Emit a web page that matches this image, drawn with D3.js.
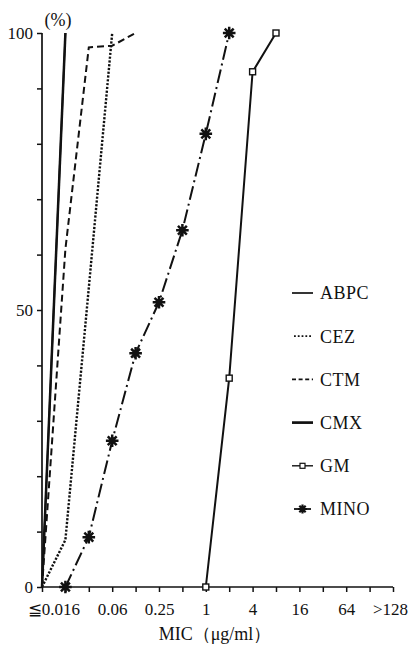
<!DOCTYPE html>
<html>
<head>
<meta charset="utf-8">
<script src="https://cdn.jsdelivr.net/npm/d3@7"></script>
<style>
  html, body { margin: 0; padding: 0; background: #fff; }
  svg { display: block; }
  text { font-family: "Liberation Serif", "DejaVu Serif", serif; fill: #111; }
</style>
</head>
<body>
<svg id="chart" width="410" height="651"></svg>
<script>
// MIC dilution steps (index along x axis)
const concentrations = ["0.008","0.016","0.03","0.06","0.125","0.25","0.5","1","2","4","8","16","32","64","128",">128"];
const tickLabels = {1: "≦0.016", 3: "0.06", 5: "0.25", 7: "1", 9: "4", 11: "16", 13: "64", 15: ">128"};
const yTickLabels = [0, 50, 100];

// cumulative % of strains inhibited, [step index, percent]
const ABPC = [[0, 0], [1, 100]];
const CEZ  = [[0, 0], [1, 8.5], [2, 54], [3, 100]];
const CTM  = [[0, 0], [1, 61], [2, 97.4], [3, 97.7], [4, 100]];
const CMX  = [[0, 0], [1, 100]];
const GM   = [[7, 0], [8, 37.7], [9, 93], [10, 100]];
const MINO = [[1, 0], [2, 9], [3, 26.4], [4, 42.2], [5, 51.4], [6, 64.4], [7, 81.8], [8, 100]];

const seriesNames = ["ABPC", "CEZ", "CTM", "CMX", "GM", "MINO"];
const seriesData = {ABPC, CEZ, CTM, CMX, GM, MINO};

const styles = {
  ABPC: {w: 1.7, dash: null, cap: "butt"},
  CEZ:  {w: 2.4, dash: "2.2,1.6", cap: "butt"},
  CTM:  {w: 2.0, dash: "7,4", cap: "butt"},
  CMX:  {w: 2.5, dash: null, cap: "butt"},
  GM:   {w: 2.0, dash: null, cap: "butt"},
  MINO: {w: 2.0, dash: "14,4,2,4", cap: "butt"}
};

const svg = d3.select("#chart");
const x = d3.scaleLinear().domain([0, concentrations.length - 1]).range([42, 393]);
const y = d3.scaleLinear().domain([0, 100]).range([587, 33]);

const FONT = "'Liberation Serif', 'DejaVu Serif', serif";

// Y axis
const yAxis = d3.axisLeft(y)
  .tickValues(d3.range(0, 101, 10))
  .tickSize(5)
  .tickPadding(4)
  .tickFormat(d => yTickLabels.includes(d) ? d : "");
const gy = svg.append("g").attr("transform", "translate(42,0)").call(yAxis);
gy.attr("font-family", FONT);
gy.select(".domain").attr("stroke", "#111").attr("stroke-width", 1.7).attr("d", `M0,${y(0)}V${y(100)}`);
gy.selectAll(".tick line").attr("stroke", "#111").attr("stroke-width", 1.5);
gy.selectAll(".tick text").attr("font-size", 17).attr("fill", "#111");

// X axis
const xAxis = d3.axisBottom(x)
  .tickValues(d3.range(0, concentrations.length))
  .tickSize(5)
  .tickPadding(11)
  .tickFormat(i => tickLabels[i] || "");
const gx = svg.append("g").attr("transform", `translate(0,${y(0)})`).call(xAxis);
gx.attr("font-family", FONT);
gx.select(".domain").attr("stroke", "#111").attr("stroke-width", 1.7).attr("d", `M${x(0)},0H${x(15)}`);
gx.selectAll(".tick line").attr("stroke", "#111").attr("stroke-width", 1.5);
gx.selectAll(".tick text").attr("font-size", 17).attr("fill", "#111")
  .attr("dx", i => i === 1 ? -12 : (i === 15 ? -3 : 0));

// axis titles
svg.append("text").attr("x", 58).attr("y", 26).attr("text-anchor", "middle").attr("font-size", 18).text("(%)");
svg.append("text").attr("x", 215).attr("y", 640).attr("text-anchor", "middle").attr("font-size", 18)
  .text("MIC（μg/ml）");

// lines
const line = d3.line().x(d => x(d[0])).y(d => y(d[1]));
seriesNames.forEach(name => {
  const s = styles[name];
  svg.append("path")
    .datum(seriesData[name])
    .attr("d", line)
    .attr("fill", "none")
    .attr("stroke", "#111")
    .attr("stroke-width", s.w)
    .attr("stroke-linecap", s.cap)
    .attr("stroke-dasharray", s.dash);
});

// star path (8 arms)
function starPath(r) {
  const a = r * Math.SQRT1_2;
  return `M0,${-r}V${r}M${-r},0H${r}M${-a},${-a}L${a},${a}M${-a},${a}L${a},${-a}`;
}

// markers
svg.append("g").selectAll("path").data(MINO).join("path")
  .attr("transform", d => `translate(${x(d[0])},${y(d[1])})`)
  .attr("d", starPath(6.3))
  .attr("stroke", "#111").attr("stroke-width", 2.5).attr("fill", "none");

svg.append("g").selectAll("rect").data(GM).join("rect")
  .attr("x", d => x(d[0]) - 3).attr("y", d => y(d[1]) - 3)
  .attr("width", 6).attr("height", 6)
  .attr("fill", "#fff").attr("stroke", "#111").attr("stroke-width", 1.4);

// legend
const legend = svg.append("g");
seriesNames.forEach((name, i) => {
  const ly = 293 + i * 43.2;
  const g = legend.append("g").attr("transform", `translate(0,${ly})`);
  if (name === "CEZ") {
    g.append("line").attr("x1", 294).attr("x2", 312).attr("y1", 0).attr("y2", 0)
      .attr("stroke", "#111").attr("stroke-width", 1.8).attr("stroke-dasharray", "1.8,2");
  } else if (name === "CTM") {
    g.append("line").attr("x1", 292).attr("x2", 313).attr("y1", 0).attr("y2", 0)
      .attr("stroke", "#111").attr("stroke-width", 1.6).attr("stroke-dasharray", "4,2.6");
  } else if (name === "MINO") {
    g.append("line").attr("x1", 294).attr("x2", 311).attr("y1", 0).attr("y2", 0)
      .attr("stroke", "#111").attr("stroke-width", 1.8);
    g.append("path").attr("transform", "translate(302.5,0)").attr("d", starPath(4.5))
      .attr("stroke", "#111").attr("stroke-width", 2.2).attr("fill", "none");
  } else {
    g.append("line").attr("x1", 292).attr("x2", 313).attr("y1", 0).attr("y2", 0)
      .attr("stroke", "#111").attr("stroke-width", name === "CMX" ? 2.7 : (name === "ABPC" ? 1.7 : 1.4));
    if (name === "GM") {
      g.append("rect").attr("x", 300).attr("y", -2.5).attr("width", 5).attr("height", 5)
        .attr("fill", "#fff").attr("stroke", "#111").attr("stroke-width", 1.2);
    }
  }
  g.append("text").attr("x", 320).attr("y", 0).attr("dy", "0.35em").attr("font-size", 18)
    .attr("letter-spacing", 0.5).text(name);
});
</script>
</body>
</html>
